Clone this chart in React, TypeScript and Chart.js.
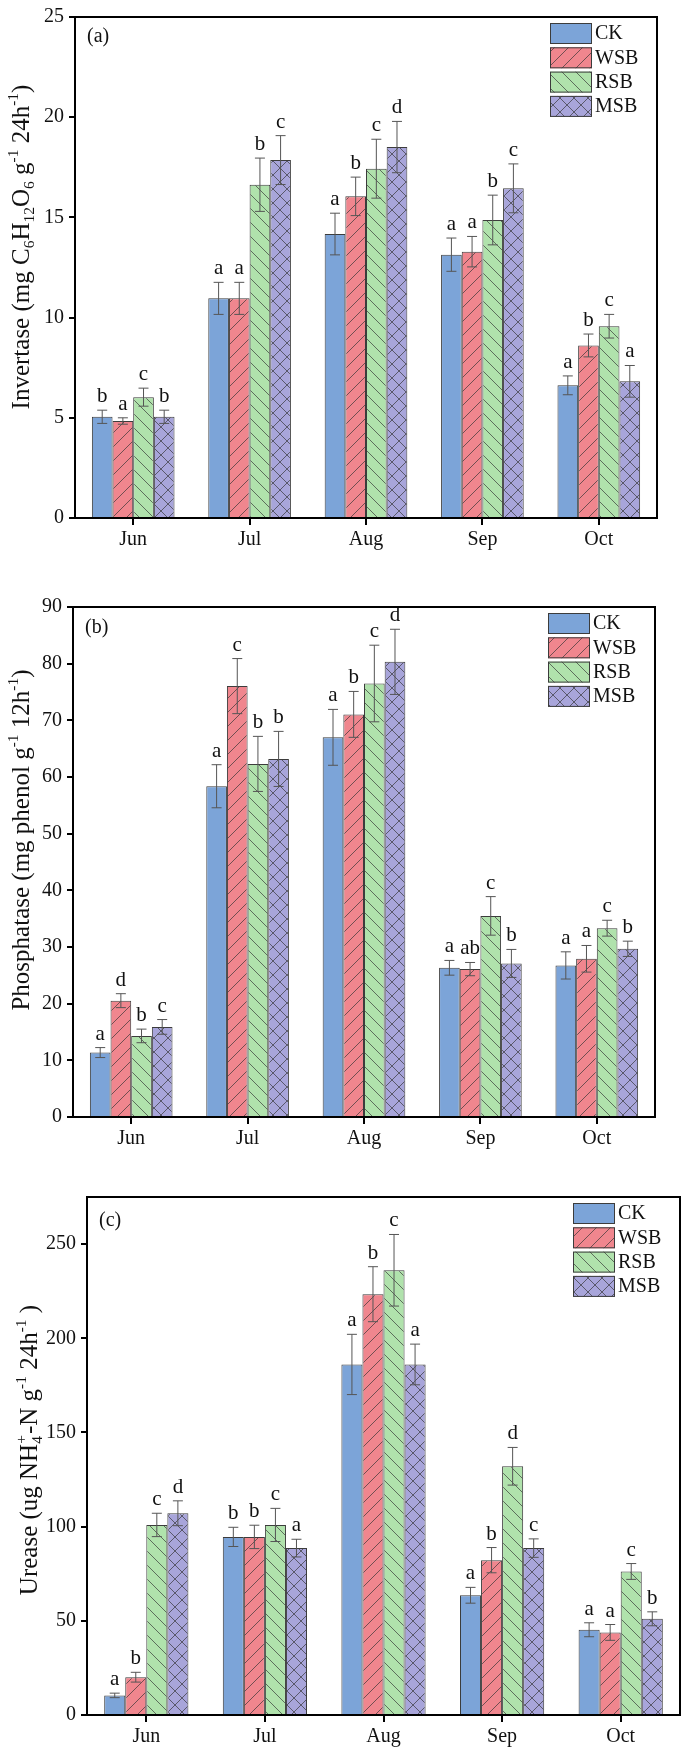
import React, { useEffect, useRef } from 'react';
import { Chart, registerables } from 'chart.js';
Chart.register(...registerables);

const months = ['Jun', 'Jul', 'Aug', 'Sep', 'Oct'];
const seriesNames = ['CK', 'WSB', 'RSB', 'MSB'];

// (a) Invertase
const invCK = [5.05, 10.96, 14.17, 13.14, 6.62];
const invWSB = [4.84, 10.96, 16.05, 13.29, 8.61];
const invRSB = [6.03, 16.63, 17.43, 14.87, 9.57];
const invMSB = [5.05, 17.86, 18.51, 16.45, 6.82];
const invErrCK = [0.33, 0.8, 1.04, 0.83, 0.47];
const invErrWSB = [0.16, 0.8, 0.96, 0.76, 0.57];
const invErrRSB = [0.45, 1.33, 1.47, 1.24, 0.59];
const invErrMSB = [0.33, 1.22, 1.28, 1.22, 0.79];
const invLetCK = ['b', 'a', 'a', 'a', 'a'];
const invLetWSB = ['a', 'a', 'b', 'a', 'b'];
const invLetRSB = ['c', 'b', 'c', 'b', 'c'];
const invLetMSB = ['b', 'c', 'd', 'c', 'a'];

// (b) Phosphatase
const phoCK = [11.37, 58.37, 67.0, 26.33, 26.75];
const phoWSB = [20.53, 76.04, 71.05, 26.1, 27.92];
const phoRSB = [14.31, 62.31, 76.5, 35.49, 33.32];
const phoMSB = [15.9, 63.19, 80.32, 27.1, 29.68];
const phoErrCK = [0.88, 3.8, 4.93, 1.3, 2.4];
const phoErrWSB = [1.23, 4.86, 4.05, 1.17, 2.35];
const phoErrRSB = [1.2, 4.86, 6.76, 3.4, 1.4];
const phoErrMSB = [1.3, 4.86, 5.75, 2.47, 1.35];
const phoLetCK = ['a', 'a', 'a', 'a', 'a'];
const phoLetWSB = ['d', 'c', 'b', 'ab', 'a'];
const phoLetRSB = ['b', 'b', 'c', 'c', 'c'];
const phoLetMSB = ['c', 'b', 'd', 'b', 'b'];

// (c) Urease
const ureCK = [10.4, 94.55, 186.1, 63.56, 45.25];
const ureWSB = [20.07, 94.55, 223.4, 82.2, 43.84];
const ureRSB = [100.9, 100.9, 236.1, 132.05, 76.2];
const ureMSB = [107.1, 88.6, 186.1, 88.6, 51.07];
const ureErrCK = [1.2, 5.1, 16, 4.2, 3.7];
const ureErrWSB = [2.6, 6.2, 14.6, 6.7, 4.2];
const ureErrRSB = [6.2, 8.8, 19, 10, 4.2];
const ureErrMSB = [6.6, 4.7, 10.8, 4.9, 3.7];
const ureLetCK = ['a', 'b', 'a', 'a', 'a'];
const ureLetWSB = ['b', 'b', 'b', 'b', 'a'];
const ureLetRSB = ['c', 'c', 'c', 'd', 'c'];
const ureLetMSB = ['d', 'a', 'a', 'c', 'b'];

const FONT = '"Liberation Serif", "Times New Roman", serif';
const COLORS = ['#7CA4D8', '#F0868E', '#B0E2AC', '#A8A5DA'];
const KINDS = ['solid', 'fwd', 'back', 'cross'];

type Seg = { t?: string; k?: 'sub' | 'sup'; sub?: string; sup?: string };

const titleA: Seg[] = [
  { t: 'Invertase (mg C' }, { t: '6', k: 'sub' }, { t: 'H' }, { t: '12', k: 'sub' }, { t: 'O' },
  { t: '6', k: 'sub' }, { t: ' g' }, { t: '-1', k: 'sup' }, { t: ' 24h' }, { t: '-1', k: 'sup' }, { t: ')' },
];
const titleB: Seg[] = [
  { t: 'Phosphatase (mg phenol g' }, { t: '-1', k: 'sup' }, { t: ' 12h' }, { t: '-1', k: 'sup' }, { t: ')' },
];
const titleC: Seg[] = [
  { t: 'Urease (ug NH' }, { sub: '4', sup: '+' }, { t: '-N g' }, { t: '-1', k: 'sup' }, { t: ' 24h' },
  { t: '-1', k: 'sup' }, { t: ' )' },
];

function makePattern(color: string, kind: string): CanvasPattern | string {
  if (kind === 'solid') return color;
  const s = 14;
  const c = document.createElement('canvas');
  c.width = s;
  c.height = s;
  const g = c.getContext('2d')!;
  g.fillStyle = color;
  g.fillRect(0, 0, s, s);
  g.strokeStyle = 'rgba(50,50,50,0.75)';
  g.lineWidth = 0.9;
  const fwd = () => {
    g.beginPath();
    g.moveTo(0, s); g.lineTo(s, 0);
    g.moveTo(-2, 2); g.lineTo(2, -2);
    g.moveTo(s - 2, s + 2); g.lineTo(s + 2, s - 2);
    g.stroke();
  };
  const back = () => {
    g.beginPath();
    g.moveTo(0, 0); g.lineTo(s, s);
    g.moveTo(-2, s - 2); g.lineTo(2, s + 2);
    g.moveTo(s - 2, -2); g.lineTo(s + 2, 2);
    g.stroke();
  };
  if (kind === 'fwd') fwd();
  if (kind === 'back') back();
  if (kind === 'cross') { fwd(); back(); }
  return g.createPattern(c, 'repeat')!;
}

function drawRich(ctx: CanvasRenderingContext2D, segs: Seg[], cx: number, cy: number, size: number) {
  const small = size * 0.62;
  const fN = `${size}px ${FONT}`;
  const fS = `${small}px ${FONT}`;
  const widths = segs.map((s) => {
    if (s.sub !== undefined) {
      ctx.font = fS;
      return Math.max(ctx.measureText(s.sub).width, ctx.measureText(s.sup || '').width) + 1;
    }
    ctx.font = s.k ? fS : fN;
    return ctx.measureText(s.t || '').width;
  });
  const total = widths.reduce((a, b) => a + b, 0);
  ctx.save();
  ctx.translate(cx, cy);
  ctx.rotate(-Math.PI / 2);
  ctx.fillStyle = '#111';
  ctx.textBaseline = 'alphabetic';
  ctx.textAlign = 'left';
  const base = size * 0.34;
  let x = -total / 2;
  segs.forEach((s, i) => {
    if (s.sub !== undefined) {
      ctx.font = fS;
      ctx.fillText(s.sub, x, base + size * 0.2);
      ctx.fillText(s.sup || '', x, base - size * 0.42);
    } else if (s.k === 'sub') {
      ctx.font = fS;
      ctx.fillText(s.t || '', x, base + size * 0.2);
    } else if (s.k === 'sup') {
      ctx.font = fS;
      ctx.fillText(s.t || '', x, base - size * 0.42);
    } else {
      ctx.font = fN;
      ctx.fillText(s.t || '', x, base);
    }
    x += widths[i];
  });
  ctx.restore();
}

type PanelProps = {
  top: number;
  height: number;
  padTop: number;
  padRight: number;
  yW: number;
  xH: number;
  max: number;
  step: number;
  values: number[][];
  errors: number[][];
  letters: string[][];
  title: Seg[];
  titleX: number;
  titleCY: number;
  tag: string;
  tagDY: number;
};

function Panel(p: PanelProps) {
  const ref = useRef<HTMLCanvasElement | null>(null);
  useEffect(() => {
    const canvas = ref.current!;
    const fills = COLORS.map((c, i) => makePattern(c, KINDS[i]));
    const datasets = seriesNames.map((name, i) => ({
      label: name,
      data: p.values[i],
      backgroundColor: fills[i] as any,
      borderColor: '#3c3c3c',
      borderWidth: 1,
      categoryPercentage: 0.71,
      barPercentage: 1.0,
    }));
    const deco = {
      id: 'deco',
      afterDatasetsDraw(chart: any) {
        const ctx: CanvasRenderingContext2D = chart.ctx;
        const ys = chart.scales.y;
        const area = chart.chartArea;
        chart.data.datasets.forEach((ds: any, i: number) => {
          const meta = chart.getDatasetMeta(i);
          meta.data.forEach((el: any, j: number) => {
            const v = ds.data[j];
            const e = p.errors[i][j];
            const yt = ys.getPixelForValue(v + e);
            const yb = ys.getPixelForValue(v - e);
            const x = el.x;
            ctx.save();
            ctx.strokeStyle = '#555';
            ctx.lineWidth = 1;
            ctx.beginPath();
            ctx.moveTo(x, yt); ctx.lineTo(x, yb);
            ctx.moveTo(x - 5, yt); ctx.lineTo(x + 5, yt);
            ctx.moveTo(x - 5, yb); ctx.lineTo(x + 5, yb);
            ctx.stroke();
            ctx.fillStyle = '#111';
            ctx.font = `21px ${FONT}`;
            ctx.textAlign = 'center';
            ctx.textBaseline = 'alphabetic';
            ctx.fillText(p.letters[i][j], x, yt - 8);
            ctx.restore();
          });
        });
        ctx.save();
        ctx.strokeStyle = '#000';
        ctx.lineWidth = 2;
        ctx.strokeRect(area.left, area.top, area.right - area.left, area.bottom - area.top);
        ctx.fillStyle = '#111';
        ctx.font = `20px ${FONT}`;
        ctx.textAlign = 'left';
        ctx.textBaseline = 'middle';
        ctx.fillText(p.tag, area.left + 12, area.top + p.tagDY);
        seriesNames.forEach((name, i) => {
          const bx = area.right - 107;
          const by = area.top + 6 + i * 24.3;
          ctx.fillStyle = fills[i] as any;
          ctx.fillRect(bx, by, 42, 21);
          ctx.strokeStyle = '#3c3c3c';
          ctx.lineWidth = 1;
          ctx.strokeRect(bx + 0.5, by + 0.5, 41, 20);
          ctx.fillStyle = '#111';
          ctx.font = `20px ${FONT}`;
          ctx.textBaseline = 'middle';
          ctx.fillText(name, bx + 45, by + 11);
        });
        ctx.restore();
        drawRich(ctx, p.title, p.titleX, p.titleCY, 25);
      },
    };
    const tickFont = { family: FONT, size: 20 };
    const chart = new Chart(canvas, {
      type: 'bar',
      data: { labels: months, datasets },
      options: {
        responsive: false,
        animation: false,
        devicePixelRatio: 1,
        layout: { padding: { top: p.padTop, right: p.padRight, left: 0, bottom: 0 } },
        plugins: { legend: { display: false }, tooltip: { enabled: false } },
        scales: {
          x: {
            type: 'category',
            offset: true,
            grid: { display: true, drawOnChartArea: false, drawTicks: true, tickLength: 7, offset: false, color: '#000', lineWidth: 2 },
            border: { display: true, color: '#000', width: 2 },
            ticks: { color: '#111', font: tickFont, padding: 3, maxRotation: 0 },
            afterFit: (s: any) => { s.height = p.xH; },
          },
          y: {
            min: 0,
            max: p.max,
            grid: { display: true, drawOnChartArea: false, drawTicks: true, tickLength: 6, color: '#000', lineWidth: 2 },
            border: { display: true, color: '#000', width: 2 },
            ticks: { stepSize: p.step, color: '#111', font: tickFont, padding: 5 },
            afterBuildTicks: (s: any) => { s.ticks = s.ticks.filter((t: any) => Math.abs(t.value / p.step - Math.round(t.value / p.step)) < 1e-6); },
            afterFit: (s: any) => { s.width = p.yW; },
          },
        },
      } as any,
      plugins: [deco],
    });
    return () => chart.destroy();
  }, []);
  return (
    <canvas
      ref={ref}
      width={685}
      height={p.height}
      style={{ position: 'absolute', left: 0, top: p.top, width: 685, height: p.height }}
    />
  );
}

export default function App() {
  return (
    <div style={{ position: 'absolute', left: 0, top: 0, width: 685, height: 1750, background: '#fff', overflow: 'hidden' }}>
      <Panel
        top={0} height={590} padTop={7} padRight={28} yW={75} xH={72}
        max={25} step={5}
        values={[invCK, invWSB, invRSB, invMSB]}
        errors={[invErrCK, invErrWSB, invErrRSB, invErrMSB]}
        letters={[invLetCK, invLetWSB, invLetRSB, invLetMSB]}
        title={titleA} titleX={20} titleCY={247} tag="(a)" tagDY={19.5}
      />
      <Panel
        top={590} height={590} padTop={16} padRight={30} yW={73} xH={63}
        max={90} step={10}
        values={[phoCK, phoWSB, phoRSB, phoMSB]}
        errors={[phoErrCK, phoErrWSB, phoErrRSB, phoErrMSB]}
        letters={[phoLetCK, phoLetWSB, phoLetRSB, phoLetMSB]}
        title={titleB} titleX={20} titleCY={250} tag="(b)" tagDY={20.5}
      />
      <Panel
        top={1180} height={570} padTop={14} padRight={5} yW={87} xH={35}
        max={275} step={50}
        values={[ureCK, ureWSB, ureRSB, ureMSB]}
        errors={[ureErrCK, ureErrWSB, ureErrRSB, ureErrMSB]}
        letters={[ureLetCK, ureLetWSB, ureLetRSB, ureLetMSB]}
        title={titleC} titleX={28} titleCY={270} tag="(c)" tagDY={24}
      />
    </div>
  );
}
